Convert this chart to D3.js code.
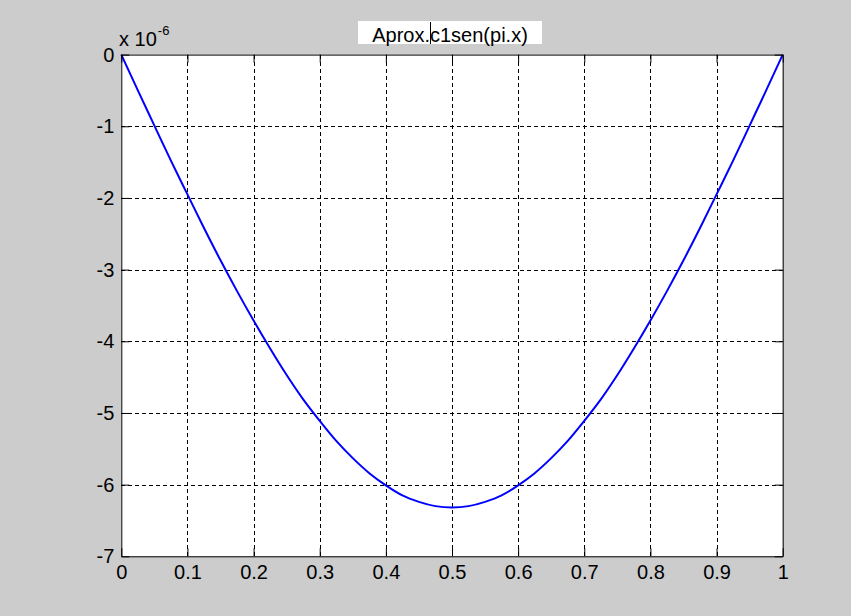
<!DOCTYPE html>
<html>
<head>
<meta charset="utf-8">
<script src="https://cdn.jsdelivr.net/npm/d3@7"></script>
<style>
  html, body { margin: 0; padding: 0; background: #cccccc; }
  svg { display: block; }
  text { font-family: Arial, "Liberation Sans", Helvetica, sans-serif; fill: #000; }
</style>
</head>
<body>
<svg id="chart" width="851" height="616"></svg>
<script>
// Sampled curve (x, value in units of 1e-6)
const xValues = [0, 0.025, 0.05, 0.075, 0.1, 0.125, 0.15, 0.175, 0.2, 0.225, 0.25,
                 0.275, 0.3, 0.325, 0.35, 0.375, 0.4, 0.425, 0.45, 0.475, 0.5,
                 0.525, 0.55, 0.575, 0.6, 0.625, 0.65, 0.675, 0.7, 0.725, 0.75,
                 0.775, 0.8, 0.825, 0.85, 0.875, 0.9, 0.925, 0.95, 0.975, 1];
const yValues = [0, -0.50, -0.99, -1.48, -1.95, -2.42, -2.87, -3.30, -3.71, -4.10, -4.47,
                 -4.81, -5.11, -5.39, -5.63, -5.84, -6.01, -6.15, -6.24, -6.30, -6.32,
                 -6.30, -6.24, -6.15, -6.01, -5.84, -5.63, -5.39, -5.11, -4.81, -4.47,
                 -4.10, -3.71, -3.30, -2.87, -2.42, -1.95, -1.48, -0.99, -0.50, 0];
const xTicks = [0, 0.1, 0.2, 0.3, 0.4, 0.5, 0.6, 0.7, 0.8, 0.9, 1];
const yTicks = [0, -1, -2, -3, -4, -5, -6, -7];
const xTickLabels = ["0", "0.1", "0.2", "0.3", "0.4", "0.5", "0.6", "0.7", "0.8", "0.9", "1"];
const yTickLabels = ["0", "-1", "-2", "-3", "-4", "-5", "-6", "-7"];
const titleText = "Aprox.c1sen(pi.x)";
const titleCursorAfter = "Aprox.";
const exponentBase = "x 10";
const exponentPower = "-6";

const FONT = 20;
const svg = d3.select("#chart");
const plotL = 121.3, plotT = 54.6, plotR = 782.7, plotB = 556.3;

const x = d3.scaleLinear().domain([0, 1]).range([plotL, plotR]);
const y = d3.scaleLinear().domain([-7, 0]).range([plotB, plotT]);

// plot area
svg.append("rect")
  .attr("x", plotL).attr("y", plotT)
  .attr("width", plotR - plotL).attr("height", plotB - plotT)
  .attr("fill", "#ffffff");

// dashed grid
const grid = svg.append("g").attr("stroke", "#000").attr("stroke-width", 1)
  .attr("stroke-dasharray", "4,3").attr("shape-rendering", "crispEdges");
grid.selectAll("line.vx").data(xTicks.slice(1, -1)).join("line")
  .attr("x1", d => Math.round(x(d)) + 0.5).attr("x2", d => Math.round(x(d)) + 0.5)
  .attr("y1", plotT).attr("y2", plotB);
grid.selectAll("line.hy").data(yTicks.slice(1, -1)).join("line")
  .attr("y1", d => Math.round(y(d)) + 0.5).attr("y2", d => Math.round(y(d)) + 0.5)
  .attr("x1", plotL).attr("x2", plotR);

// curve
const line = d3.line().x((d, i) => x(xValues[i])).y(d => y(d)).curve(d3.curveMonotoneX);
svg.append("path")
  .datum(yValues)
  .attr("d", line)
  .attr("fill", "none")
  .attr("stroke", "#0000ff")
  .attr("stroke-width", 2);

// axes with inward ticks on all four sides
const tickLen = 8;
const axBottom = d3.axisBottom(x).tickValues(xTicks).tickSizeInner(-tickLen).tickSizeOuter(0)
  .tickPadding(8.5).tickFormat((d, i) => xTickLabels[i]);
const axTop = d3.axisTop(x).tickValues(xTicks).tickSizeInner(-tickLen).tickSizeOuter(0).tickFormat("");
const axLeft = d3.axisLeft(y).tickValues(yTicks).tickSizeInner(-tickLen).tickSizeOuter(0)
  .tickPadding(7).tickFormat((d, i) => yTickLabels[i]);
const axRight = d3.axisRight(y).tickValues(yTicks).tickSizeInner(-tickLen).tickSizeOuter(0).tickFormat("");

function styleAxis(g) {
  g.selectAll("path.domain").attr("stroke", "#000").attr("stroke-width", 1);
  g.selectAll(".tick line").attr("stroke", "#000").attr("stroke-width", 1);
  g.selectAll(".tick text").attr("font-size", FONT).attr("fill", "#000")
    .attr("font-family", "Arial, 'Liberation Sans', sans-serif");
}
svg.append("g").attr("transform", `translate(0,${plotB})`).call(axBottom).call(styleAxis);
svg.append("g").attr("transform", `translate(0,${plotT})`).call(axTop).call(styleAxis);
svg.append("g").attr("transform", `translate(${plotL},0)`).call(axLeft).call(styleAxis);
svg.append("g").attr("transform", `translate(${plotR},0)`).call(axRight).call(styleAxis);

// exponent label
const expo = svg.append("text").attr("x", 119).attr("y", 46).attr("font-size", FONT);
expo.append("tspan").text(exponentBase);
expo.append("tspan").attr("font-size", 13).attr("dy", -11).attr("dx", 1).text(exponentPower);

// title with white box and text cursor
svg.append("rect")
  .attr("x", 358).attr("y", 21).attr("width", 184).attr("height", 23)
  .attr("fill", "#ffffff");
const title = svg.append("text")
  .attr("x", 450).attr("y", 41.5)
  .attr("text-anchor", "middle").attr("font-size", FONT)
  .text(titleText);
const bb = title.node().getBBox();
const tmp = svg.append("text").attr("font-size", FONT).attr("x", 0).attr("y", -50).text(titleCursorAfter);
const cursorX = bb.x + tmp.node().getComputedTextLength();
tmp.remove();
svg.append("line")
  .attr("x1", Math.round(cursorX) + 0.5).attr("x2", Math.round(cursorX) + 0.5)
  .attr("y1", 22).attr("y2", 44)
  .attr("stroke", "#000").attr("stroke-width", 1);
</script>
</body>
</html>
